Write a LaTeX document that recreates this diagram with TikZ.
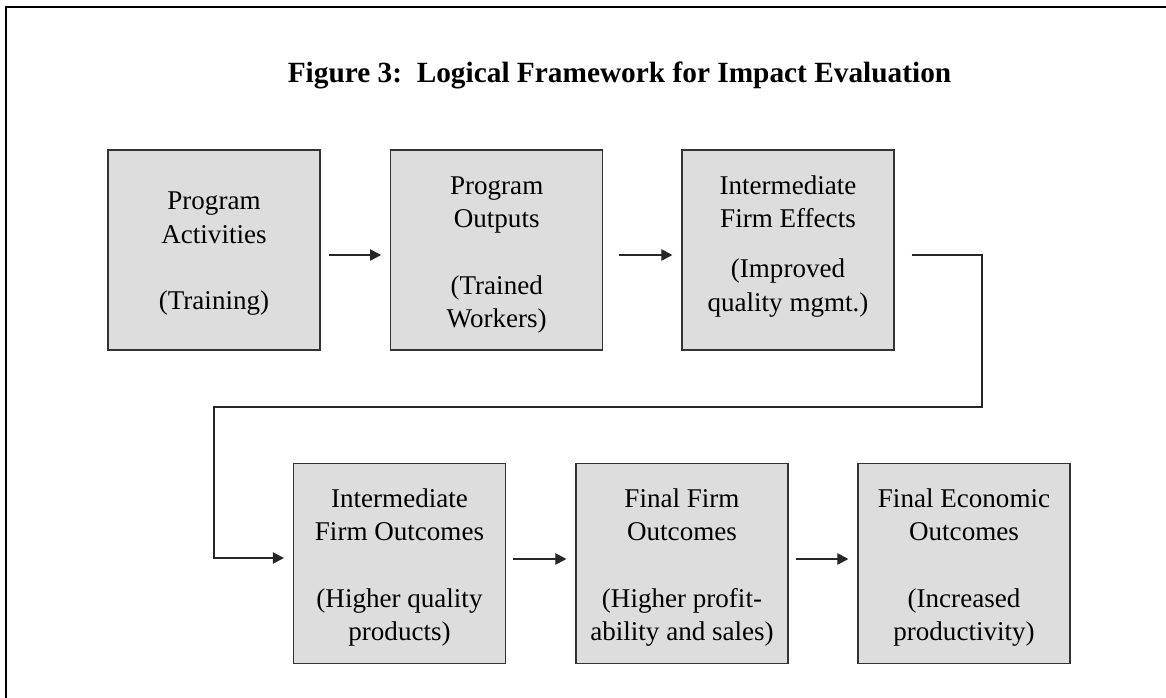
\documentclass[tikz,border=0pt]{standalone}
\usepackage{fontspec}
\setmainfont{Liberation Serif}
\usetikzlibrary{arrows.meta,calc}
\definecolor{boxfill}{HTML}{DDDDDD}
\definecolor{edge}{HTML}{333333}
\tikzset{
  box/.style={draw=edge, line width=0.9pt, fill=boxfill, minimum width=159pt, minimum height=150pt, inner sep=0pt},
  txt/.style={align=center, inner sep=0pt, font=\fontsize{20.3}{25}\selectfont},
  conn/.style={draw=black!85, line width=0.8pt},
  arr/.style={conn, -{Triangle[length=8.25pt,width=8.5pt]}},
  frameline/.style={draw=black, line width=1.6pt},
  titlestyle/.style={inner sep=0pt, font=\fontsize{22}{27}\selectfont\bfseries}
}
\begin{document}
\begin{tikzpicture}[x=0.75pt, y=-0.75pt]
\useasboundingbox[fill=white] (0,0) rectangle (1166,698);
% frame
\draw[frameline] (6.2,710) -- (6.2,6.7) -- (1180,6.7);
% title
\node[titlestyle, anchor=base] (title) at (619.5,83) {Figure 3:~~Logical Framework for Impact Evaluation};
% top row
\node[box] (b1) at (214,250) {};
\node[box] (b2) at (496.7,250) {};
\node[box] (b3) at (788,250) {};
\node[txt] (t1) at ($(b1.center)+(0,4)$) {Program\\Activities\\[25pt](Training)};
\node[txt] (t2) at ($(b2.center)+(0,5)$) {Program\\Outputs\\[25pt](Trained\\Workers)};
\node[txt] (t3) at ($(b3.center)+(0,-3.6)$) {Intermediate\\Firm Effects\\[12.5pt](Improved\\quality mgmt.)};
% bottom row
\node[box] (b4) at (399.5,563.5) {};
\node[box] (b5) at (682,563.5) {};
\node[box] (b6) at (964,563.5) {};
\node[txt] (t4) at ($(b4.center)+(0,4)$) {Intermediate\\Firm Outcomes\\[25pt](Higher quality\\products)};
\node[txt] (t5) at ($(b5.center)+(0,4)$) {Final Firm\\Outcomes\\[25pt](Higher profit-\\ability and sales)};
\node[txt] (t6) at ($(b6.center)+(0,4)$) {Final Economic\\Outcomes\\[25pt](Increased\\productivity)};
% arrows top row
\draw[arr] ($(b1.east)+(8,5)$) -- ($(b2.west)+(-9,5)$);
\draw[arr] ($(b2.east)+(16,5)$) -- ($(b3.west)+(-9,5)$);
% connector from row 1 to row 2
\coordinate (c1) at (982,407);
\coordinate (c2) at (214,407);
\draw[arr] ($(b3.east)+(17,5)$) -| (c1) -- (c2) |- ($(b4.west)+(-9,-5.5)$);
% arrows bottom row
\draw[arr] ($(b4.east)+(7,-4.5)$) -- ($(b5.west)+(-9,-4.5)$);
\draw[arr] ($(b5.east)+(7,-4.5)$) -- ($(b6.west)+(-9,-4.5)$);
\end{tikzpicture}
\end{document}
